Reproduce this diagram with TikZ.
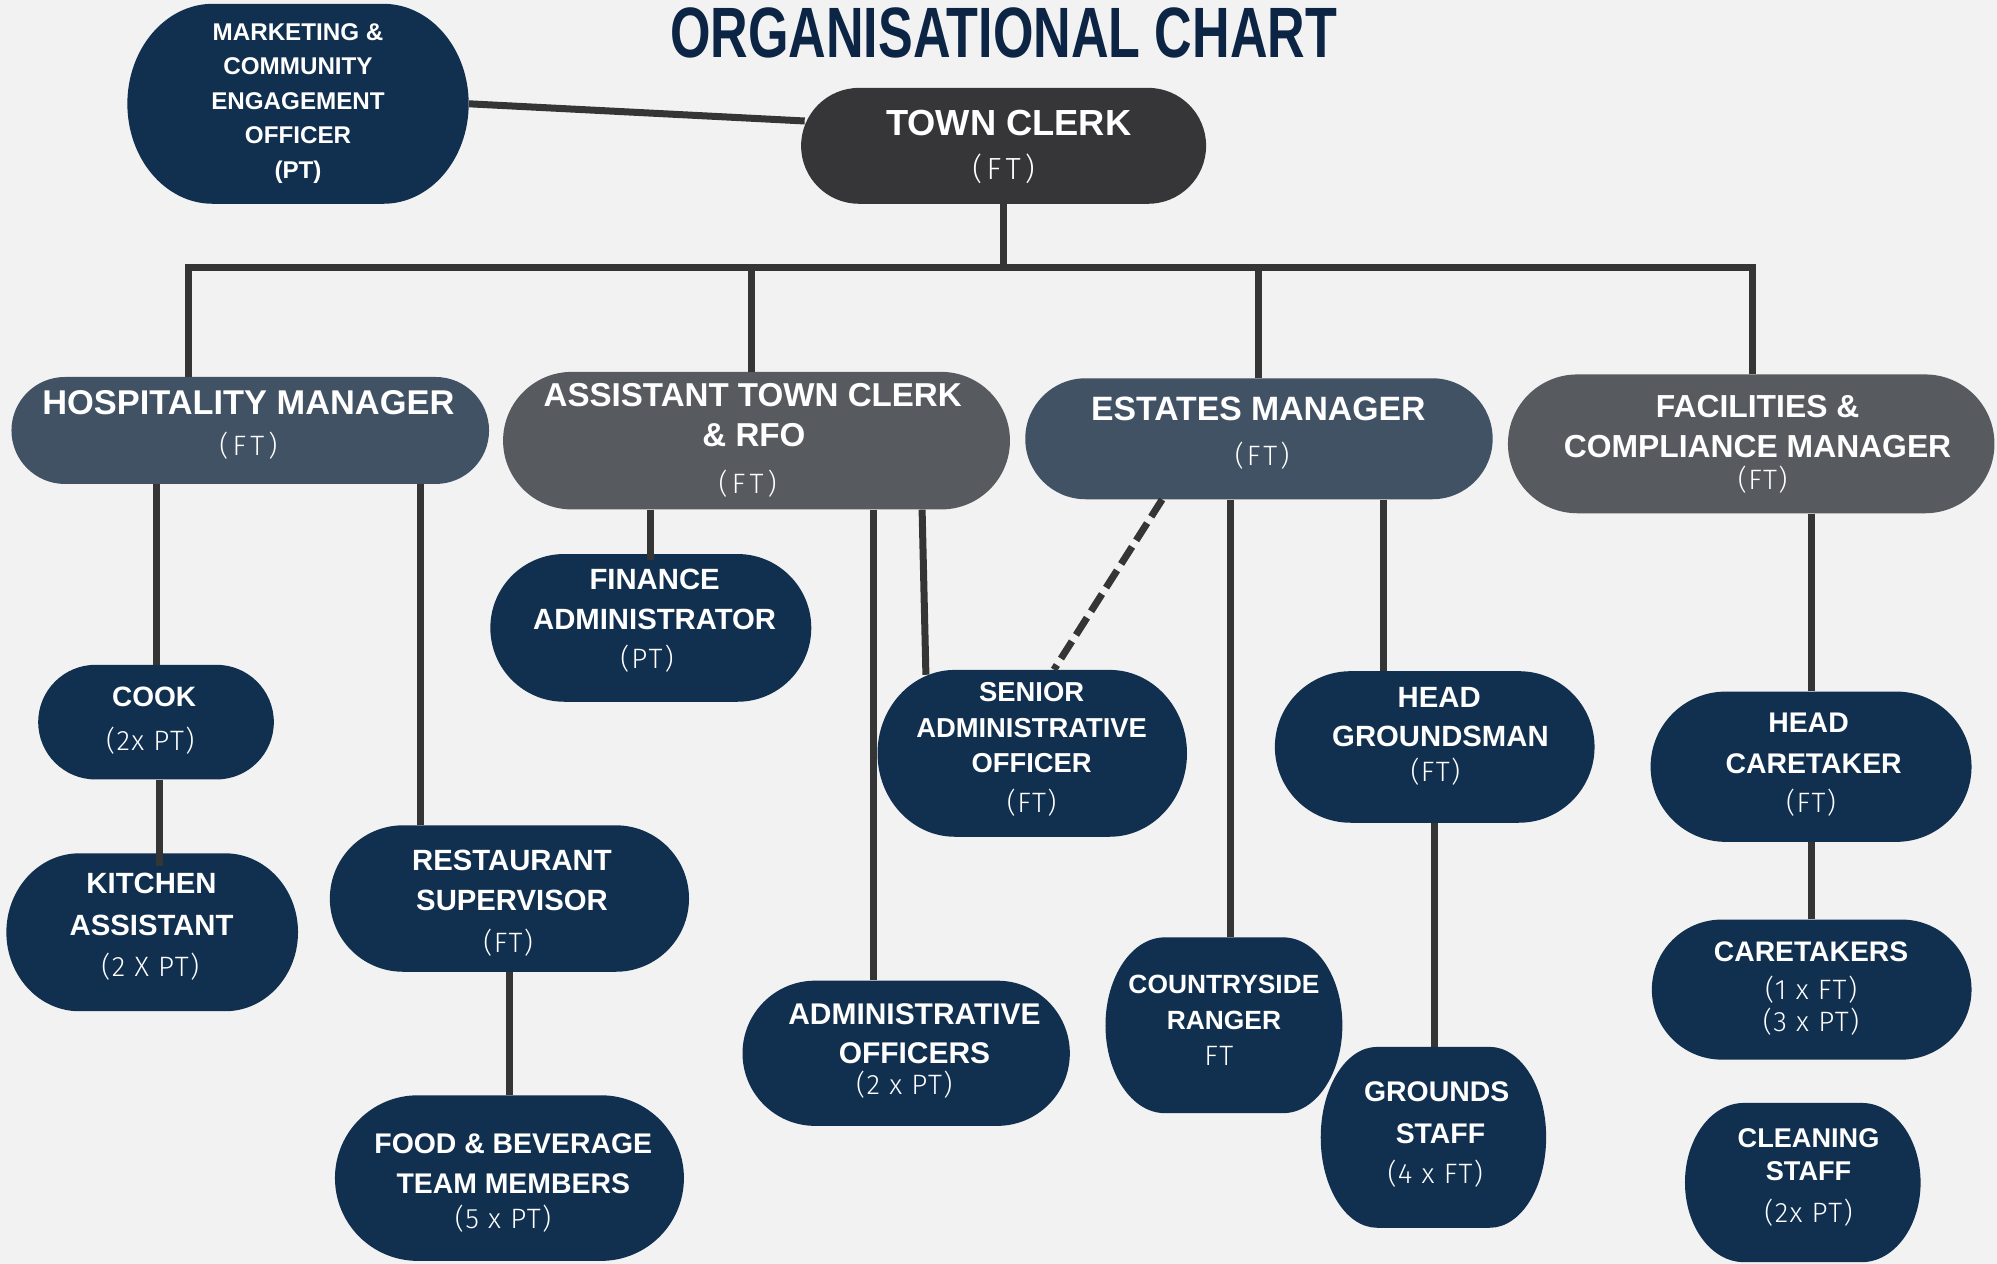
\documentclass[tikz,border=0pt]{standalone}
\usepackage{fontspec}
\setmainfont{Liberation Sans}
\newfontfamily\titlefont{Liberation Sans}[FakeStretch=0.73]
\newfontfamily\ftfont{Fira Sans Light}
\usetikzlibrary{calc}
\definecolor{bg}{HTML}{F2F2F2}
\definecolor{navy}{HTML}{11304F}
\definecolor{tcgray}{HTML}{363638}
\definecolor{slate}{HTML}{425265}
\definecolor{midgray}{HTML}{575A5F}
\definecolor{lc}{HTML}{353535}
\definecolor{titlec}{HTML}{0C2545}
\tikzset{
  conn/.style={draw=lc, line width=5.5pt},
  dashconn/.style={draw=lc, line width=5.5pt, dash pattern=on 16pt off 6pt},
  nmtext/.style={anchor=base, inner sep=0pt, text=white},
  shapenode/.style={inner sep=0pt, draw=none}
}
\newcounter{tn}
\newcommand\nm[4]{\stepcounter{tn}\node[nmtext,font={\fontsize{#3}{#3}\selectfont\bfseries}] (t\arabic{tn}) at (#1,{#2+0.358*#3}) {#4};}
\newcommand\ft[5]{\stepcounter{tn}\node[nmtext,font={\fontsize{#3}{#3}\selectfont\ftfont\addfontfeature{LetterSpace=#4}}] (t\arabic{tn}) at (#1,{#2+0.345*#3}) {#5};}
\newcommand\pill[6]{%
  \pgfmathsetmacro\ry{(#5-#3)/2}%
  \pgfmathsetmacro\rx{min(\ry,(#4-#2)/4)}%
  \fill[#6] ({#2+\rx},#3) -- ({#4-\rx},#3)
    arc[start angle=-90,end angle=0,x radius=\rx,y radius=\ry] -- (#4,{#5-\ry})
    arc[start angle=0,end angle=90,x radius=\rx,y radius=\ry] -- ({#2+\rx},#5)
    arc[start angle=90,end angle=180,x radius=\rx,y radius=\ry] -- (#2,{#3+\ry})
    arc[start angle=180,end angle=270,x radius=\rx,y radius=\ry] -- cycle;
  \node[shapenode, minimum width={(#4-#2)*1pt}, minimum height={(#5-#3)*1pt}] (#1) at ({(#2+#4)/2},{(#3+#5)/2}) {};
}
\begin{document}
\begin{tikzpicture}[x=1pt,y=-1pt]
\useasboundingbox (0,0) rectangle (1568,992.4);
\fill[bg] (0,0) rectangle (1568,992.4);

% title
\node[anchor=base, inner sep=0pt, text=titlec, font={\fontsize{56}{56}\selectfont\titlefont\bfseries}] (title) at (788,45) {ORGANISATIONAL CHART};

% shapes
\pill{mk}{100}{3}{368}{160}{navy}
\pill{tc}{629}{69}{947}{160}{tcgray}
\pill{hm}{9}{296}{384}{380}{slate}
\pill{atc}{395}{292}{793}{400}{midgray}
\pill{em}{805}{297}{1172}{392}{slate}
\pill{fac}{1184}{294}{1566}{403}{midgray}
\pill{cook}{30}{522}{215}{612}{navy}
\pill{ka}{5}{670}{234}{794}{navy}
\pill{rs}{259}{648}{541}{763}{navy}
\pill{fb}{263}{860}{537}{990}{navy}
\pill{fa}{385}{435}{637}{551}{navy}
\pill{sao}{689}{526}{932}{657}{navy}
\pill{ao}{583}{770}{840}{884}{navy}
\pill{cr}{868}{736}{1054}{874}{navy}
\pill{hg}{1001}{527}{1252}{646}{navy}
\pill{gs}{1037}{822}{1214}{964}{navy}
\pill{hc}{1296}{543}{1548}{661}{navy}
\pill{ct}{1297}{722}{1548}{832}{navy}
\pill{cs}{1323}{866}{1508}{991}{navy}

% helper coordinates
\coordinate (bus) at (788,210);
\coordinate (b1) at (148,210);
\coordinate (b2) at (590,210);
\coordinate (b3) at (988,210);
\coordinate (b4) at (1376,210);
\coordinate (hx) at (330,0);
\coordinate (ax) at (686,0);
\coordinate (sx1) at (724,0);
\coordinate (sx2) at (727,0);
\coordinate (cx) at (966,0);
\coordinate (gx) at (1086,0);

% connectors
\draw[conn] (mk.east) -- ($(tc.west)+(3,-19.5)$);
\draw[dashconn] ($(mk.west)+(5,34)$) -- ($(mk.west)+(5,34)$ |- hm.north);
\draw[conn] (tc.south) -- (bus);
\draw[conn] (hm.north -| b1) -- (b1) -- (b4) -- (fac.north -| b4);
\draw[conn] (b2) -- (atc.north -| b2);
\draw[conn] (b3) -- (em.north -| b3);
\draw[conn] (hm.south -| cook.north) -- (cook.north);
\draw[conn] (hm.south -| hx) -- (rs.north -| hx);
\draw[conn] ($(cook.south)+(2.5,0)$) -- ($(ka.north -| cook.south)+(2.5,10)$);
\draw[conn] (rs.south) -- (fb.north);
\draw[conn] (atc.south -| fa.north) -- ($(fa.north)+(0,5)$);
\draw[conn] (atc.south -| ax) -- (ao.north -| ax);
\draw[conn] (atc.south -| sx1) -- ($(sao.north -| sx2)+(0,4)$);
\draw[dashconn] ($(em.south)+(-76,0)$) -- ($(sao.north)+(17,0)$);
\draw[conn] (em.south -| cx) -- (cr.north -| cx);
\draw[conn] (em.south -| gx) -- (hg.north -| gx);
\draw[conn] (hg.south) -- (hg.south |- gs.north);
\draw[conn] (fac.south -| hc.north) -- (hc.north);
\draw[conn] (hc.south) -- (hc.south |- ct.north);

% texts
\nm{234}{25}{19}{MARKETING \&}
\nm{234}{52}{19}{COMMUNITY}
\nm{234}{79}{19}{ENGAGEMENT}
\nm{234}{106}{19}{OFFICER}
\nm{234}{133}{19}{(PT)}

\nm{792}{96}{28.5}{TOWN CLERK}
\ft{788}{133}{24}{14}{(FT)}

\nm{195}{316}{27}{HOSPITALITY MANAGER}
\ft{195}{350}{22}{15}{(FT)}

\nm{591}{310}{26}{ASSISTANT TOWN CLERK}
\nm{592}{341}{26}{\& RFO}
\ft{587}{380}{22}{15}{(FT)}

\nm{988}{321}{26.5}{ESTATES MANAGER}
\ft{991}{358}{22}{11}{(FT)}

\nm{1380}{319}{25}{FACILITIES \&}
\nm{1380}{350}{25}{COMPLIANCE MANAGER}
\ft{1384}{377}{22}{5}{(FT)}

\nm{121}{547}{22}{COOK}
\ft{118}{582}{22}{5}{(2x PT)}

\nm{119}{693}{23}{KITCHEN}
\nm{119}{726}{23}{ASSISTANT}
\ft{118}{759}{22}{5}{(2 X PT)}

\nm{402}{675}{23}{RESTAURANT}
\nm{402}{707}{23}{SUPERVISOR}
\ft{399}{740}{22}{5}{(FT)}

\nm{403}{898}{22.3}{FOOD \& BEVERAGE}
\nm{403}{929}{22.3}{TEAM MEMBERS}
\ft{395}{957}{22}{5}{(5 x PT)}

\nm{514}{455}{23}{FINANCE}
\nm{514}{486}{23}{ADMINISTRATOR}
\ft{508}{517}{22}{7}{(PT)}

\nm{810}{543}{21.5}{SENIOR}
\nm{810}{571}{21.5}{ADMINISTRATIVE}
\nm{810}{599}{21.5}{OFFICER}
\ft{810}{630}{22}{5}{(FT)}

\nm{718}{796}{23.5}{ADMINISTRATIVE}
\nm{718}{827}{23.5}{OFFICERS}
\ft{710}{852}{22}{5}{(2 x PT)}

\nm{961}{773}{20.7}{COUNTRYSIDE}
\nm{961}{801}{20.7}{RANGER}
\ft{957}{829}{22}{5}{FT}

\nm{1130}{547}{23}{HEAD}
\nm{1131}{578}{23}{GROUNDSMAN}
\ft{1127}{606}{22}{5}{(FT)}

\nm{1128}{857}{22.3}{GROUNDS}
\nm{1131}{890}{22.3}{STAFF}
\ft{1127}{922}{22}{5}{(4 x FT)}

\nm{1420}{567}{22.3}{HEAD}
\nm{1424}{599}{22.3}{CARETAKER}
\ft{1422}{630}{22}{5}{(FT)}

\nm{1422}{747}{22.2}{CARETAKERS}
\ft{1422}{777}{22}{5}{(1 x FT)}
\ft{1422}{802}{22}{5}{(3 x PT)}

\nm{1420}{893}{21.3}{CLEANING}
\nm{1420}{919}{21.3}{STAFF}
\ft{1420}{952}{22}{5}{(2x PT)}
\end{tikzpicture}
\end{document}
